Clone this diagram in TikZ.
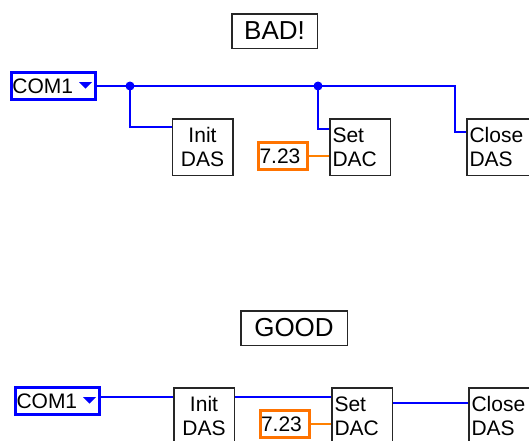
\documentclass[tikz,border=0pt]{standalone}
\usepackage{fontspec}
\setmainfont{Liberation Sans}
\begin{document}
\begin{tikzpicture}[x=1pt,y=-1pt,
  lbl/.style={font=\fontsize{21}{24}\selectfont},
  title/.style={draw=black!85, line width=1.5pt, inner sep=0pt, minimum height=34.5pt,
                font=\fontsize{26}{30}\selectfont},
  vi/.style={draw=black!85, line width=1.5pt, inner sep=0pt, minimum height=56.5pt, lbl,
             text width=55pt, inner xsep=2.75pt},
  vil/.style={vi, align=left},
  vic/.style={vi, align=center},
  ctl/.style={draw=blue, line width=3pt, inner sep=0pt, inner xsep=1pt, minimum height=27pt,
              text width=82pt, align=left, lbl},
  num/.style={draw=orange!90!red, line width=3pt, inner sep=0pt, inner xsep=1pt, minimum height=27pt,
              text width=47pt, align=left, lbl},
  wire/.style={draw=blue, line width=1.3pt},
  owire/.style={draw=orange, line width=1.3pt},
  dot/.style={fill=blue}
]
\clip (0,0) rectangle (529,440);
\fill[white] (0,0) rectangle (529,440);

% ---------- BAD ----------
\node[title, minimum width=85.5pt] (bad) at (274.5,31) {BAD!};
\node[ctl] (com1) at (53.5,86) {COM1};
\fill[blue] (79,82) -- (92,82) -- (85.5,88.5) -- cycle;
\node[vic] (init) at (202.5,147) {Init\\DAS};
\node[vil] (set) at (360,147) {Set\\DAC};
\node[vil, text width=70pt] (close) at (504.5,147) {Close\\DAS};
\node[num] (val) at (283,156) {7.23};

\coordinate (j1) at (130,86);
\coordinate (j2) at (318,86);
\coordinate (k3) at (455,86);
\draw[wire] (com1.east) -- (k3) |- ([yshift=15pt]close.west);
\draw[wire] (j1) |- ([yshift=20pt]init.west);
\draw[wire] (j2) |- ([yshift=18pt]set.west);
\fill[dot] (j1) circle[radius=4.5pt];
\fill[dot] (j2) circle[radius=4.5pt];
\draw[owire] (val.east) -- (val.east -| set.west);

% ---------- GOOD ----------
\node[title, minimum width=106.5pt] (good) at (294,328) {GOOD};
\node[ctl] (com1b) at (57.5,401) {COM1};
\fill[blue] (83,397) -- (96,397) -- (89.5,403.5) -- cycle;
\node[vic] (initb) at (204,416) {Init\\DAS};
\node[vil] (setb) at (362,416) {Set\\DAC};
\node[vil, text width=70pt] (closeb) at (506.5,416) {Close\\DAS};
\node[num] (valb) at (284.5,424) {7.23};

\draw[wire] ([yshift=4pt]com1b.east) -- ([yshift=4pt]com1b.east -| initb.west);
\draw[wire] ([yshift=19pt]initb.east) -- ([yshift=19pt]setb.west);
\draw[wire] ([yshift=13pt]setb.east) -- ([yshift=13pt]closeb.west);
\draw[owire] (valb.east) -- (valb.east -| setb.west);
\end{tikzpicture}
\end{document}
